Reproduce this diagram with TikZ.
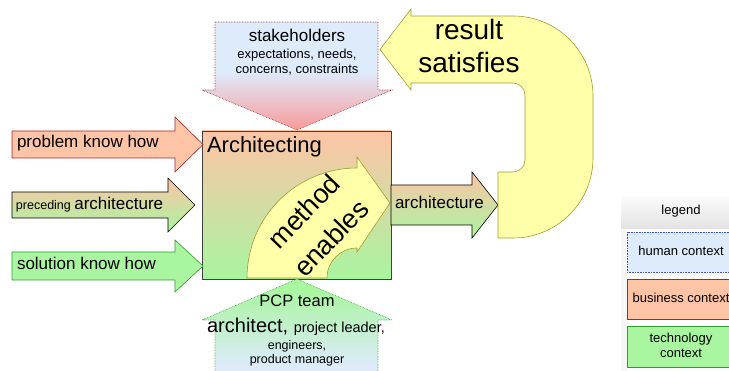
\documentclass[tikz,border=0pt]{standalone}
\usepackage{fontspec}
\setmainfont{Liberation Sans}
\newcommand\fsz[1]{\fontsize{#1}{#1}\selectfont}
\definecolor{salmon}{HTML}{FDC4A6}
\definecolor{lgreen}{HTML}{A9F5A0}
\definecolor{lblue}{HTML}{DDEBFB}
\definecolor{pinkred}{HTML}{F99A9A}
\definecolor{lyellow}{HTML}{FFFFAA}
\definecolor{olivedk}{HTML}{9E9E2E}
\definecolor{dred}{HTML}{A02828}
\definecolor{dgreen}{HTML}{2E9E2E}
\definecolor{dblue}{HTML}{3A4FE0}
\pgfdeclareverticalshading{shblpink}{100bp}{color(0bp)=(pinkred); color(25bp)=(pinkred); color(52bp)=(lblue); color(100bp)=(lblue)}
\pgfdeclareverticalshading{shgrblue}{100bp}{color(0bp)=(lblue); color(30bp)=(lblue); color(70bp)=(lgreen); color(100bp)=(lgreen)}
\tikzset{
  lbl/.style={inner sep=0pt, outer sep=0pt, anchor=base},
  lblw/.style={inner sep=0pt, outer sep=0pt, anchor=base west},
  bizbox/.style={fill=salmon, draw=dred, line width=0.6pt},
  techbox/.style={fill=lgreen, draw=dgreen, line width=0.6pt},
  humbox/.style={fill=lblue, draw=dblue, densely dotted, line width=0.6pt},
  mixbox/.style={top color=salmon, bottom color=lgreen, draw=black, line width=0.6pt},
  yelbox/.style={fill=lyellow, draw=olivedk, line width=0.6pt},
}
\begin{document}
\begin{tikzpicture}[x=1pt,y=-1pt]
\useasboundingbox (0,0) rectangle (729,371);
\clip (0,0) rectangle (729,371);

% legend header shading
\shade[top color=black!2, bottom color=black!11] (621,197) rectangle (740,229);
\fill[black!3] (621,229) rectangle (627,371);

% Architecting box
\path[mixbox, draw=black!75] (202,131) rectangle (391,279);
\node[lblw] (tarch) at (207,153) {\fsz{22}Architecting};

% stakeholders arrow (down)
\path[shading=shblpink]
  (215,22) -- (378,22) -- (378,90) -- (392,90) -- (297,130) -- (202,90) -- (215,90) -- cycle;
\draw[draw=dred, densely dotted, line width=0.6pt]
  (215,22) -- (378,22) -- (378,90) -- (392,90) -- (297,130) -- (202,90) -- (215,90) -- cycle;
\node[lbl] (tsh1) at (297,42) {\fsz{17}stakeholders};
\node[lbl] (tsh2) at (297,59) {\fsz{13}expectations, needs,};
\node[lbl] (tsh3) at (297,74) {\fsz{13}concerns, constraints};

% PCP team arrow (up)
\path[shading=shgrblue]
  (297,279) -- (392,320) -- (378,320) -- (378,376) -- (215,376) -- (215,320) -- (202,320) -- cycle;
\draw[draw=dgreen, densely dotted, line width=0.6pt]
  (297,279) -- (392,320) -- (378,320) -- (378,376) -- (215,376) -- (215,320) -- (202,320) -- cycle;
\node[lbl] (tpcp1) at (297,307) {\fsz{16.5}PCP team};
\node[lbl] (tpcp2) at (296,333) {\fsz{20}architect, \fsz{14.5}project leader,};
\node[lbl] (tpcp3) at (297,350) {\fsz{12.5}engineers,};
\node[lbl] (tpcp4) at (297,364) {\fsz{12.5}product manager};

% left input arrows
\path[bizbox] (12,131) -- (175,131) -- (175,117) -- (203,144.5) -- (175,172) -- (175,158) -- (12,158) -- cycle;
\node[lblw] (tprob) at (17,148) {\fsz{17}problem know how};

\path[mixbox] (12,192) -- (168,192) -- (168,178) -- (195,205) -- (168,232) -- (168,218) -- (12,218) -- cycle;
\node[lblw] (tprec) at (16,210) {\fsz{12.5}preceding \fsz{17}architecture};

\path[techbox] (12,252) -- (175,252) -- (175,240) -- (203,266) -- (175,292) -- (175,280) -- (12,280) -- cycle;
\node[lblw] (tsol) at (17,270) {\fsz{17}solution know how};

% method enables curved arrow
\path[yelbox] (247,278) arc[start angle=180, end angle=270, radius=110]
  -- (357,157) -- (390,203) -- (357,252) -- (357,248)
  arc[start angle=270, end angle=180, radius=30] -- cycle;
\node[inner sep=0pt, rotate=46] (tmeth) at (304,211) {\fsz{27}method};
\node[inner sep=0pt, rotate=46] (tenab) at (331,238) {\fsz{27}enables};

% output architecture arrow
\path[mixbox] (391,185) -- (472,185) -- (472,172) -- (498,205) -- (472,238) -- (472,225) -- (391,225) -- cycle;
\node[lblw] (tout) at (395,209) {\fsz{17}architecture};

% result satisfies U arrow
\path[yelbox] (380,49.5) -- (411,9) -- (411,16) -- (513,16)
  .. controls (557.2,16) and (593,51.8) .. (593,96)
  -- (593,158)
  .. controls (593,202.2) and (557.2,238) .. (513,238)
  -- (498,238) -- (498,172) -- (513,172)
  .. controls (519.6,172) and (525,166.6) .. (525,160)
  -- (525,95)
  .. controls (525,88.4) and (519.6,83) .. (513,83)
  -- (411,83) -- (411,90) -- cycle;
\node[lbl] (tres1) at (469,40) {\fsz{28}result};
\node[lbl] (tres2) at (469,73) {\fsz{28}satisfies};

% legend
\node[lbl] (tleg) at (681,215) {\fsz{13}legend};
\path[humbox] (627,232) rectangle (734,272);
\node[lbl] (thum) at (681,256) {\fsz{13}human context};
\path[bizbox] (627,279) rectangle (734,319);
\node[lbl] (tbiz) at (681,303) {\fsz{13}business context};
\path[techbox] (627,326) rectangle (734,367);
\node[lbl] (ttec1) at (681,343) {\fsz{13}technology};
\node[lbl] (ttec2) at (681,358) {\fsz{13}context};
\end{tikzpicture}
\end{document}
